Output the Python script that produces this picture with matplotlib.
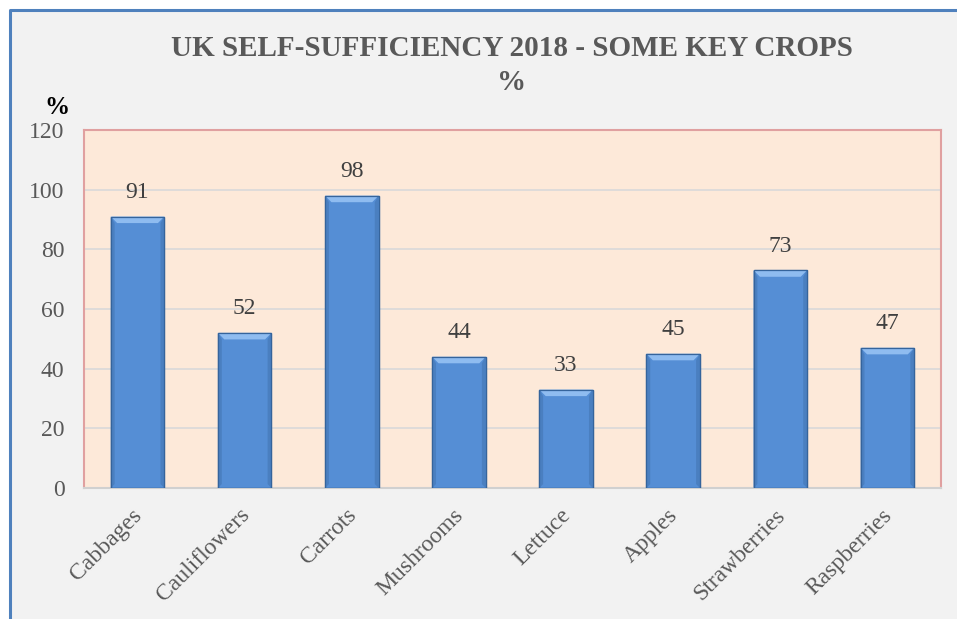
import matplotlib
matplotlib.use("Agg")
import matplotlib.pyplot as plt
from matplotlib.lines import Line2D
from matplotlib.patches import Rectangle, Polygon
from matplotlib.transforms import ScaledTranslation

categories = ["Cabbages", "Cauliflowers", "Carrots", "Mushrooms", "Lettuce", "Apples", "Strawberries", "Raspberries"]
values = [91, 52, 98, 44, 33, 45, 73, 47]
yticks = [0, 20, 40, 60, 80, 100, 120]

plt.rcParams['font.family'] = ['Liberation Serif', 'DejaVu Serif']

W, H = 957, 619
fig = plt.figure(figsize=(W/100, H/100), dpi=100)
fig.patch.set_facecolor('white')

fig.patches.append(Rectangle((10/W, 0), 1, 1 - 10/H, transform=fig.transFigure,
                             facecolor='#f2f2f2', edgecolor='none', zorder=-10))
fig.lines.append(Line2D([10/W, 10/W, 1], [0, 1 - 10/H, 1 - 10/H], transform=fig.transFigure,
                        color='#4f81bd', linewidth=2.2, zorder=10))

ax = fig.add_axes([84/W, 1 - 488/H, (941-84)/W, (488-130)/H])
ax.set_facecolor('#fde9d9')
x = list(range(len(categories)))
bars = ax.bar(x, values, width=0.5, color='#558ed5', edgecolor='#35649c', linewidth=0.9, zorder=3)
# bevel highlight on top of each bar
for b in bars:
    x0, w, h = b.get_x(), b.get_width(), b.get_height()
    bev_x = w * 0.12
    bev_y = 2.2
    ax.add_patch(Polygon([(x0, h), (x0 + w, h), (x0 + w - bev_x, h - bev_y), (x0 + bev_x, h - bev_y)],
                         closed=True, facecolor='#8fbcf0', edgecolor='none', zorder=4))
    ax.add_patch(Polygon([(x0, 0), (x0 + bev_x * 0.6, bev_y * 0.6), (x0 + bev_x * 0.6, h - bev_y), (x0, h)],
                         closed=True, facecolor='#4a7fc0', edgecolor='none', zorder=4))
    ax.add_patch(Polygon([(x0 + w, 0), (x0 + w - bev_x * 0.6, bev_y * 0.6), (x0 + w - bev_x * 0.6, h - bev_y), (x0 + w, h)],
                         closed=True, facecolor='#4a7fc0', edgecolor='none', zorder=4))
    ax.add_patch(Rectangle((x0, 0), w, h, facecolor='none', edgecolor='#35649c', linewidth=0.9, zorder=5))

for xi, v in zip(x, values):
    ax.text(xi, v + 4.5, str(v), ha='center', va='bottom', fontsize=17, color='#404040')

ax.set_xlim(-0.5, len(categories) - 0.5)
ax.set_ylim(0, 120)
ax.set_yticks(yticks)
ax.set_yticklabels([str(t) for t in yticks], fontsize=17, color='#595959')
ax.grid(axis='y', color='#d9d9d9', linewidth=1.2, zorder=0)
ax.tick_params(axis='y', length=0, pad=14)
ax.tick_params(axis='x', length=0, pad=12)
ax.set_xticks(x)
ax.set_xticklabels(categories, rotation=45, ha='right', va='top', rotation_mode='anchor',
                   fontsize=17, color='#595959')
offset = ScaledTranslation(-6/100, 0, fig.dpi_scale_trans)
for lbl in ax.get_xticklabels():
    lbl.set_transform(lbl.get_transform() + offset)
for s in ['top', 'left', 'right']:
    ax.spines[s].set_color('#e0a0a0')
    ax.spines[s].set_linewidth(1.5)
ax.spines['bottom'].set_color('#d0d0d0')
ax.spines['bottom'].set_linewidth(1.5)

fig.text(512/W, 1 - 48/H, "UK SELF-SUFFICIENCY 2018 - SOME KEY CROPS", ha='center', va='center',
         fontsize=21, fontweight='bold', color='#595959')
fig.text(512/W, 1 - 82/H, "%", ha='center', va='center',
         fontsize=21, fontweight='bold', color='#595959')
fig.text(57/W, 1 - 108/H, "%", ha='center', va='center',
         fontsize=18, fontweight='bold', color='black')

fig.savefig("out.png", dpi=100)
